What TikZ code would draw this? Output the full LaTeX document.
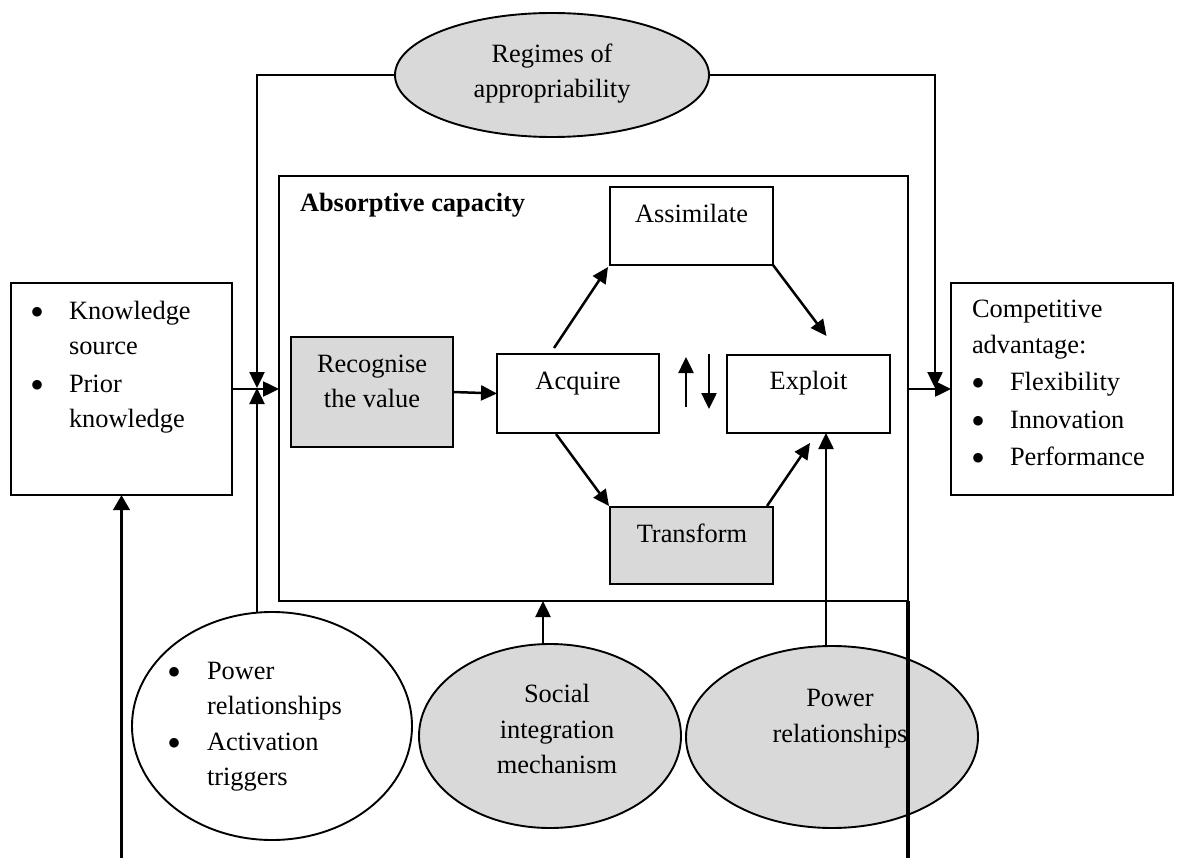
\documentclass[tikz,border=0pt]{standalone}
\usepackage{fontspec}
\setmainfont{Liberation Serif}
\usetikzlibrary{arrows.meta,calc,shapes.geometric}
\definecolor{boxgray}{RGB}{217,217,217}

\tikzset{
  boxline/.style={draw, line width=2pt, rectangle},
  shaded/.style={fill=boxgray},
  oval/.style={ellipse, draw, line width=1.9pt},
  conn/.style={line width=2.5pt, -{Triangle[length=16pt,width=15pt]}},
  heavy/.style={line width=3.8pt},
  txt/.style={anchor=base, inner sep=0pt},
  ltxt/.style={anchor=base west, inner sep=0pt},
  bul/.style={anchor=base, inner sep=0pt, font=\fontsize{40pt}{40pt}\selectfont},
}

\begin{document}
\begin{tikzpicture}[x=1pt, y=-1pt, inner sep=0pt, outer sep=0pt,
  font=\fontsize{26.4pt}{36pt}\selectfont]

\path[fill=white] (0,0) rectangle (1180,858);
\useasboundingbox (0,0) rectangle (1180,858);

% ---------- boxes ----------
\node[boxline, minimum width=221pt, minimum height=212pt] (know) at (121.5,389) {};
\node[boxline, line width=1.7pt, minimum width=629pt, minimum height=425pt] (outer) at (593.5,388.5) {};
\node[boxline, shaded, minimum width=162pt, minimum height=110pt] (recog) at (372,392) {};
\node[boxline, minimum width=162pt, minimum height=79pt] (acquire) at (578,393.5) {};
\node[boxline, minimum width=163pt, minimum height=78pt] (assim) at (691.5,226) {};
\node[boxline, minimum width=163pt, minimum height=78pt] (exploit) at (808.5,394) {};
\node[boxline, shaded, minimum width=163pt, minimum height=77pt] (transform) at (691.5,545.5) {};
\node[boxline, minimum width=222pt, minimum height=212pt] (comp) at (1062,389) {};

% ---------- ellipses ----------
\node[oval, fill=boxgray, minimum width=314pt, minimum height=124pt] (regimes) at (552,75) {};
\node[oval, fill=white, minimum width=280pt, minimum height=228pt] (powerL) at (272,726) {};
\node[oval, fill=boxgray, minimum width=262pt, minimum height=184pt] (social) at (550,736) {};
\node[oval, fill=boxgray, minimum width=292pt, minimum height=182pt] (powerR) at (832,737) {};

% ---------- texts ----------
\node[txt] (regT1) at (552,63) {Regimes of};
\node[txt] (regT2) at (552,98) {appropriability};

\node[ltxt, font=\fontsize{26.4pt}{36pt}\selectfont\bfseries] (absT) at (300,212) {Absorptive capacity};

\node[txt] (assimT) at (691.5,223) {Assimilate};
\node[txt] (recogT1) at (372,372) {Recognise};
\node[txt] (recogT2) at (372,407) {the value};
\node[txt] (acqT) at (578,389) {Acquire};
\node[txt] (expT) at (808.5,389) {Exploit};
\node[txt] (trT) at (692,542) {Transform};

\node[bul] (kb1) at (38,326) {•};
\node[ltxt] (kt1) at (69,320) {Knowledge};
\node[ltxt] (kt2) at (69,355) {source};
\node[bul] (kb2) at (38,398) {•};
\node[ltxt] (kt3) at (69,392) {Prior};
\node[ltxt] (kt4) at (69,427) {knowledge};

\node[ltxt] (ct1) at (972,318) {Competitive};
\node[ltxt] (ct2) at (972,353) {advantage:};
\node[bul] (cb1) at (978,396) {•};
\node[ltxt] (ct3) at (1010,390) {Flexibility};
\node[bul] (cb2) at (978,434) {•};
\node[ltxt] (ct4) at (1010,428) {Innovation};
\node[bul] (cb3) at (978,471) {•};
\node[ltxt] (ct5) at (1010,465) {Performance};

\node[bul] (pb1) at (174,685) {•};
\node[ltxt] (pt1) at (207,679) {Power};
\node[ltxt] (pt2) at (207,714) {relationships};
\node[bul] (pb2) at (174,756) {•};
\node[ltxt] (pt3) at (207,750) {Activation};
\node[ltxt] (pt4) at (207,785) {triggers};

\node[txt] (soT1) at (557,702) {Social};
\node[txt] (soT2) at (557,738) {integration};
\node[txt] (soT3) at (557,773) {mechanism};

\node[txt] (prT1) at (840,706) {Power};
\node[txt] (prT2) at (840,742) {relationships};

% ---------- junction points ----------
\coordinate (J) at (257,388);
\coordinate (K) at (935,388);
\coordinate (upS) at (686,407);
\coordinate (upE) at (686,357);
\coordinate (dnS) at (709,354);
\coordinate (dnE) at (709,409);
\coordinate (socTop) at (543,643);
\coordinate (prTop) at (826,646);
\coordinate (bottomL) at (121.5,858);

% ---------- connectors ----------
\draw[conn] (know.east) -- (know.east -| outer.west);
\draw[conn] (regimes.west) -| (J);
\draw[conn] (J |- powerL.north) -- (J);
\draw[conn] (regimes.east) -| (K);
\draw[conn] (outer.east |- comp.west) -- (comp.west);

\draw[conn] (recog.east) -- (acquire.west);
\draw[conn] ($(acquire.north)+(-24,-6)$) -- ($(assim.south west)+(-2,2)$);
\draw[conn] (assim.south east) -- ($(exploit.north)+(18,-19)$);
\draw[conn] ($(acquire.south)+(-22,1)$) -- ($(transform.north west)+(-1,-1)$);
\draw[conn] ($(transform.north east)+(-6,-1)$) -- ($(exploit.south)+(1.5,10)$);
\draw[conn] (upS) -- (upE);
\draw[conn] (dnS) -- (dnE);

\draw[conn] (socTop) -- (socTop |- outer.south);
\draw[conn] (prTop) -- (prTop |- exploit.south);

\draw[heavy, -{Triangle[length=15pt,width=16pt]}] (bottomL) -- (know.south);
\draw[heavy] (outer.south east) -- (outer.south east |- bottomL);

\end{tikzpicture}
\end{document}
